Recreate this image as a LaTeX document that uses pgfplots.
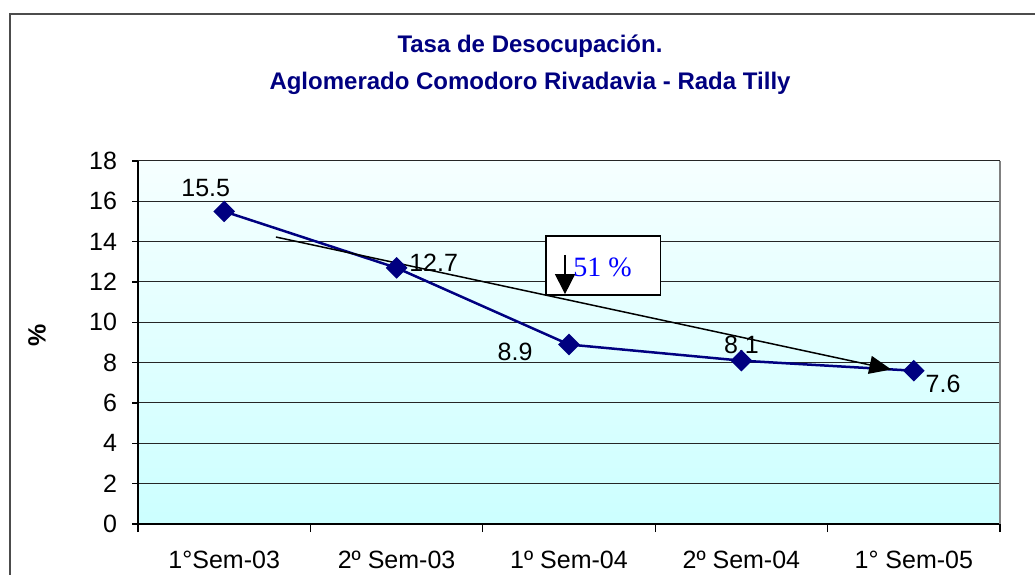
\documentclass[border=0pt]{standalone}
\usepackage{fontspec}
\setmainfont{Liberation Sans}
\newfontfamily\timesfont{Liberation Serif}
\usepackage{pgfplots}
\pgfplotsset{compat=1.18}
\usetikzlibrary{arrows.meta}
\definecolor{navy}{RGB}{0,0,128}
\definecolor{aquabot}{RGB}{204,255,255}
\definecolor{aquatop}{RGB}{246,255,255}
\newcommand{\lblfont}{\fontsize{12.5}{14}\selectfont}

\begin{document}
\begin{tikzpicture}
\useasboundingbox (0pt,0pt) rectangle (517.5pt,287pt);
% outer chart frame (cut off at right and bottom)
\draw[black!70, line width=1pt] (5pt,-5pt) -- (5pt,280pt) -- (525pt,280pt);
\node[font=\bfseries\fontsize{12}{14}\selectfont, text=navy] at (265pt,263.7pt) {Tasa de Desocupación.};
\node[font=\bfseries\fontsize{12}{14}\selectfont, text=navy] at (265pt,245.5pt) {Aglomerado Comodoro Rivadavia - Rada Tilly};
\node[font=\bfseries\lblfont, rotate=90] at (18.5pt,119.5pt) {\%};

\begin{axis}[
    at={(69pt,25pt)}, anchor=south west,
    scale only axis, width=431pt, height=181.5pt,
    xmin=-0.5, xmax=4.5, ymin=0, ymax=18,
    ytick={0,2,...,18},
    xtick={0,1,2,3,4},
    xticklabels={1°Sem-03, 2º Sem-03, 1º Sem-04, 2º Sem-04, 1° Sem-05},
    minor xtick={-0.5,0.5,1.5,2.5,3.5,4.5},
    axis x line*=bottom, axis y line*=left,
    axis line style={black, line width=0.8pt},
    tick align=outside, major tick length=3pt, minor tick length=4pt,
    major x tick style={draw=none},
    minor x tick style={black, line width=0.6pt},
    y tick style={black, line width=0.6pt},
    ymajorgrids, grid style={black!85, line width=0.5pt},
    axis background/.style={top color=aquatop, bottom color=aquabot},
    tick label style={font=\lblfont},
    /pgf/number format/assume math mode=true,
    xticklabel style={yshift=-7pt},
    yticklabel style={xshift=-4pt},
    clip=false,
]
\draw[gray, line width=1pt] (rel axis cs:1,0) -- (rel axis cs:1,1);
\addplot[navy, line width=1.25pt, mark=square*, mark size=3.2pt,
    mark options={rotate=45, fill=navy}]
    coordinates {(0,15.5) (1,12.7) (2,8.9) (3,8.1) (4,7.6)};
% trend arrow
\addplot[black, line width=0.75pt, -{Triangle[length=11pt,width=9pt]}]
    coordinates {(0.30,14.23) (3.87,7.66)};
% annotation box
\draw[fill=white, line width=0.8pt] (axis cs:1.867,11.35) rectangle (axis cs:2.53,14.28);
\addplot[black, line width=0.75pt, -{Triangle[length=10pt,width=10pt]}]
    coordinates {(1.977,13.34) (1.977,11.4)};
\node[text=blue, font=\timesfont\fontsize{14}{16}\selectfont] at (axis cs:2.194,12.74) {51 \%};
% data labels
\begin{scope}[every node/.style={font=\lblfont}]
\node at (axis cs:-0.107,16.66) {15.5};
\node at (axis cs:1.215,12.94) {12.7};
\node at (axis cs:1.687,8.53) {8.9};
\node at (axis cs:3.00,8.87) {8.1};
\node at (axis cs:4.17,6.94) {7.6};
\end{scope}
\end{axis}
\end{tikzpicture}
\end{document}
